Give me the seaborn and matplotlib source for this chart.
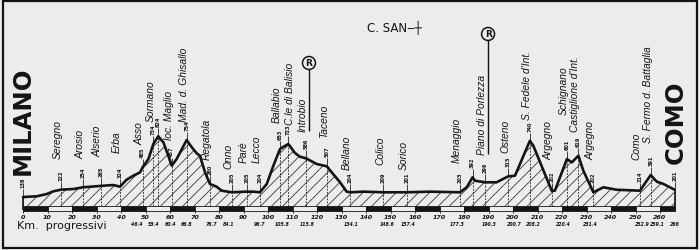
import numpy as np
import pandas as pd
import matplotlib
matplotlib.use("Agg")
import matplotlib.pyplot as plt
from matplotlib.patches import Rectangle
import seaborn as sns

# ---------------- data ----------------
profile_km = [0, 5.6, 9.7, 12.4, 15.5, 20.5, 24.5, 31.8, 36.9, 39.6,
              42.3, 45.0, 47.8, 48.8, 51.2, 53.2, 55.2, 57.3, 59.3, 60.7,
              62.7, 66.8, 68.9, 70.9, 72.2, 74.3, 76.3, 79.0, 81.1, 85.2,
              91.3, 94.0, 96.7, 99.5, 102.2, 104.9, 108.3, 111.0, 113.0, 115.5,
              119.9, 124.0, 126.0, 129.4, 132.1, 133.5, 138.9, 147.1, 156.6, 166.1,
              178.4, 181.1, 183.5, 184.5, 188.6, 193.3, 198.1, 200.8, 206.9, 208.3,
              215.8, 217.1, 222.0, 224.0, 226.7, 228.7, 232.8, 236.9, 242.3, 251.8,
              256.2, 258.7, 261.4, 266.0]
profile_alt = [138, 146, 172, 203, 222, 229, 249, 265, 275, 256,
               336, 381, 420, 477, 572, 744, 832, 763, 610, 496,
               572, 789, 706, 637, 610, 420, 287, 256, 210, 192,
               199, 199, 192, 287, 496, 687, 744, 641, 599, 580,
               515, 489, 420, 306, 199, 192, 199, 192, 192, 199,
               192, 249, 363, 324, 306, 306, 375, 381, 781, 724,
               210, 210, 572, 534, 610, 439, 192, 249, 221, 210,
               389, 313, 287, 221]

town_names = ["Seregno", "Arosio", "Alserio", "Erba", "Asso", "Sormano", "",
              "loc. Maglio", "Mad. d. Ghisallo", "Regatola", "Onno", "Parè", "Lecco",
              "Ballabio", "C.le di Balisio", "Introbio", "Taceno", "Bellano", "Colico",
              "Sorico", "Menaggio", "", "Piano di Porlezza", "Osteno", "S. Fedele d'Int.",
              "Argegno", "Schignano", "Castiglione d'Int.", "Argegno", "Como",
              "S. Fermo d. Battaglia"]
town_km = [15.5, 24.5, 31.8, 39.6, 48.8, 53.2, 55.2, 60.7, 66.8, 76.3, 85.2, 91.3,
           96.7, 104.9, 108.3, 115.5, 124.0, 133.5, 147.1, 156.6, 178.4, 183.5,
           188.6, 198.1, 206.9, 215.8, 222.0, 226.7, 232.8, 251.8, 256.2]
town_alt = [222, 254, 265, 324, 485, 734, 824, 457, 754, 280, 205, 205, 204, 653,
            723, 586, 507, 204, 209, 201, 203, 392, 296, 315, 740, 202, 601, 619,
            202, 214, 391]
refuel_towns = ["Introbio", "Piano di Porlezza"]

start_name, start_km, start_alt = "MILANO", 0, 138
finish_name, finish_km, finish_alt = "COMO", 266, 201

ruler_ticks = list(range(0, 261, 10))
cum_labels = ["46.4", "53.4", "60.4", "66.8", "76.7", "84.1", "96.7", "105.8",
              "115.8", "134.1", "148.6", "157.4", "177.3", "190.3", "200.7",
              "208.2", "220.4", "231.4", "252.9", "259.1", "266"]
cum_km = [float(s) for s in cum_labels]

# ---------------- layout (pixels of a 700x251 image) ----------------
W, H = 700, 251
X0_PX, PX_PER_KM = 23, 2.45
REF_ALT, REF_PY, UPP = 138, 198, 11.43
name_gap_px = [32, 29, 30, 35, 23, 23, 0, 27, 19, 25, 24, 30, 30, 27, 20, 27, 29,
               23, 28, 23, 30, 0, 28, 24, 22, 32, 45, 25, 33, 32, 33]
name_dx_px = [-3] * len(town_names)
name_dx_px[town_names.index("Ballabio")] = -3.5
name_dx_px[town_names.index("C.le di Balisio")] = 1.8
refuel_circle_py = [64, 35]

BG = "#ececea"
INK = "#141414"
NAME_FONT = ["Liberation Sans", "DejaVu Sans"]

def dx(px):
    return px / PX_PER_KM

def dy(px):
    return px * UPP

def alt_at_py(py):
    return REF_ALT + (REF_PY - py) * UPP

BASE = alt_at_py(207)
STRIP_BOT = alt_at_py(211.5)

sns.set_theme(style="white")
plt.rcParams["font.family"] = ["DejaVu Sans"]
plt.rcParams["hatch.linewidth"] = 0.6

fig = plt.figure(figsize=(W / 100, H / 100), dpi=100)
fig.patch.set_facecolor(BG)
ax = fig.add_axes([0, 0, 1, 1])
ax.set_facecolor(BG)
ax.set_xlim(-X0_PX / PX_PER_KM, (W - X0_PX) / PX_PER_KM)
ax.set_ylim(alt_at_py(H), alt_at_py(0))
ax.axis("off")

df = pd.DataFrame({"km": profile_km, "alt": profile_alt})

# hatched profile area
ax.fill_between(df["km"], BASE, df["alt"], facecolor="none", edgecolor="#3a3a3a",
                hatch="///", linewidth=0, zorder=2)
sns.lineplot(data=df, x="km", y="alt", sort=False, color=INK, linewidth=1.9,
             ax=ax, zorder=5, legend=False)

def prof(k):
    return float(np.interp(k, profile_km, profile_alt))

# start / finish verticals
for k in (start_km, finish_km):
    ax.vlines(k, STRIP_BOT, prof(k), color=INK, linewidth=1.2, zorder=4)

# towns: dashed drop lines and altitude numbers
all_km = [start_km] + town_km + [finish_km]
all_alt = [start_alt] + town_alt + [finish_alt]
for k, a in zip(all_km, all_alt):
    p = prof(k)
    ax.vlines(k, BASE, p, color="#222", linewidth=0.6, linestyles=(0, (2.2, 1.6)), zorder=3)
    ax.vlines(k, p, p + dy(8), color="#222", linewidth=0.6, zorder=3)
    ax.text(k, p + dy(10), str(a), rotation=90, ha="center", va="bottom",
            fontsize=3.6, fontweight="bold", color=INK, zorder=6)

# town names
ri = 0
for name, k, gap, ndx in zip(town_names, town_km, name_gap_px, name_dx_px):
    if not name:
        continue
    p = prof(k)
    y0 = p + dy(gap)
    ax.text(k + dx(ndx), y0, name, rotation=90, ha="center", va="bottom",
            fontsize=7.4, fontstyle="italic", family=NAME_FONT, color=INK, zorder=6)
    if name in refuel_towns:
        cy = alt_at_py(refuel_circle_py[ri])
        ri += 1
        ax.vlines(k + dx(3), y0, cy, color=INK, linewidth=1.0, zorder=6)
        ax.text(k + dx(3), cy, "R", ha="center", va="center", fontsize=6.5,
                fontweight="bold", color=INK, zorder=7,
                bbox=dict(boxstyle="circle,pad=0.22", fc=BG, ec=INK, lw=1.1))

# big end names
ax.text(start_km, alt_at_py(121), start_name, rotation=90, ha="center", va="center",
        fontsize=17.5, fontweight="bold", color=INK, zorder=6)
ax.text(finish_km + dx(1), alt_at_py(122), finish_name, rotation=90, ha="center",
        va="center", fontsize=17.5, fontweight="bold", color=INK, zorder=6)

# ruler strip
seg_start = ruler_ticks
seg_w = [min(10, finish_km - s) for s in seg_start]
seg_col = [INK if (i % 2 == 0) else BG for i in range(len(seg_start))]
ax.bar(seg_start, BASE - STRIP_BOT, width=seg_w, bottom=STRIP_BOT, align="edge",
       color=seg_col, edgecolor=INK, linewidth=0.6, zorder=4)
ax.vlines(ruler_ticks, STRIP_BOT - dy(2.5), STRIP_BOT, color=INK, linewidth=0.6)
for t in ruler_ticks:
    ax.text(t, alt_at_py(218), str(t), ha="center", va="center", fontsize=4.6,
            fontweight="bold", fontstyle="italic", color=INK)

ax.text(-dx(6), alt_at_py(226), "Km.  progressivi", ha="left", va="center",
        fontsize=8, color=INK)
for k, s in zip(cum_km, cum_labels):
    ax.text(k, alt_at_py(225), s, ha="center", va="center", fontsize=3.4,
            fontweight="bold", fontstyle="italic", color=INK)

# handwritten note and frame
ax.text(140.5, alt_at_py(27.5), "C. SAN\u2012\u253c", ha="left", va="center",
        fontsize=8.5, color=INK)
ax.add_patch(Rectangle((0.004, 0.008), 0.992, 0.984, transform=ax.transAxes,
                       fill=False, edgecolor=INK, linewidth=1.6, zorder=10))

fig.savefig("out.png", dpi=100, facecolor=BG)
